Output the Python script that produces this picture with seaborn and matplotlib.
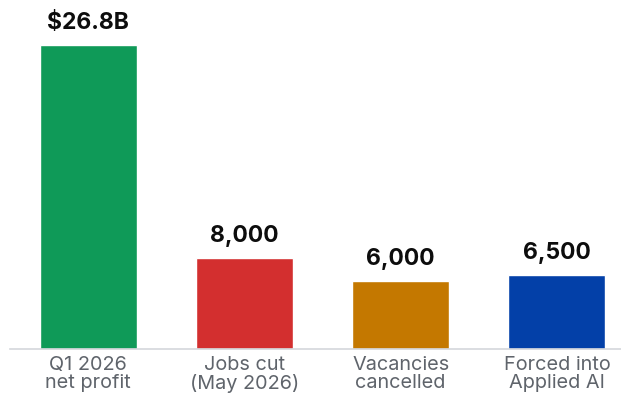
import matplotlib
matplotlib.use("Agg")
import matplotlib.pyplot as plt
import seaborn as sns
import pandas as pd

# Chart data
categories = ["Q1 2026\nnet profit", "Jobs cut\n(May 2026)", "Vacancies\ncancelled", "Forced into\nApplied AI"]
values = [26800, 8000, 6000, 6500]          # profit drawn as $26.8B on the same visual scale
value_labels = ["$26.8B", "8,000", "6,000", "6,500"]
colors = ["#0f9a58", "#d32f2f", "#c47800", "#0340a8"]

df = pd.DataFrame({"category": categories, "value": values})

sns.set_theme(style="white")
plt.rcParams["font.family"] = ["Inter", "DejaVu Sans"]

fig = plt.figure(figsize=(6.21, 3.96), dpi=100)
ax = fig.add_axes([10 / 621, 47 / 396, 611 / 621, 349 / 396])

sns.barplot(data=df, x="category", y="value", hue="category", palette=colors,
            legend=False, width=0.62, saturation=1, ax=ax)

for i, (v, lab) in enumerate(zip(values, value_labels)):
    ax.annotate(lab, (i, v), xytext=(0, 8), textcoords="offset points",
                ha="center", va="bottom", fontsize=16.5, fontweight="bold",
                color="#0d0d0d")

ax.set_xlim(-0.50, 3.41)
ax.set_ylim(0, 30800)
ax.set_xlabel("")
ax.set_ylabel("")
ax.set_yticks([])
ax.tick_params(axis="x", length=0, pad=5, labelsize=14.3, labelcolor="#5f646b")
for lbl in ax.get_xticklabels():
    lbl.set_linespacing(1.0)

for side in ["top", "right", "left"]:
    ax.spines[side].set_visible(False)
ax.spines["bottom"].set_color("#d4d7dc")
ax.spines["bottom"].set_linewidth(1.2)

fig.savefig("out.png", dpi=100, facecolor="white")
